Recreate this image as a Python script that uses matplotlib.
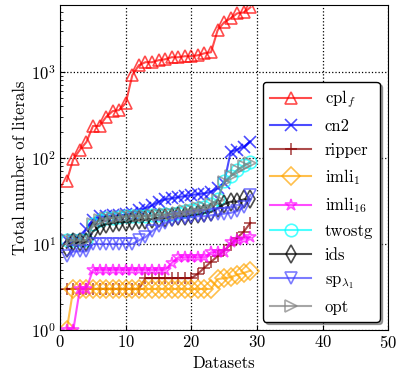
import matplotlib
matplotlib.use("Agg")
import matplotlib.pyplot as plt

plt.rcParams['font.family'] = 'serif'
plt.rcParams['font.serif'] = ['cmr10']
plt.rcParams['mathtext.fontset'] = 'cm'
plt.rcParams['axes.formatter.use_mathtext'] = True
plt.rcParams['font.size'] = 12

# datasets 1..29, each method's literal counts (sorted)
datasets = list(range(1, 30))

cpl_f = [54, 97, 124, 153, 235, 235, 299, 350, 360, 434, 916, 1196, 1295, 1295, 1365,
         1400, 1480, 1480, 1520, 1520, 1560, 1645, 1690, 3040, 3770, 4200, 4790, 4900, 5620]
cn2 = [11, 11, 11, 15, 19, 21, 21, 21.5, 21.5, 22, 23, 25, 26, 28, 31,
       33, 34, 35, 36, 37, 38, 38.5, 40.5, 44.5, 51, 118, 125, 135, 155]
ripper = [3, 3, 3, 3, 3, 3, 3, 3, 3, 3, 3, 3, 4, 4, 4,
          4, 4, 4, 4, 4, 4.5, 5.3, 6.2, 7.2, 8.4, 9.8, 11.8, 13.9, 17.6]
imli_1 = [1, 3, 3, 3, 3, 3, 3, 3, 3, 3, 3, 3, 3, 3, 3,
          3, 3, 3, 3, 3, 3, 3, 3, 3.9, 4, 4.1, 4.4, 4.6, 4.9]
imli_16 = [1, 1, 3, 3, 5, 5, 5, 5, 5, 5, 5, 5, 5, 5, 5,
           5, 6, 7, 7, 7, 7, 7, 8, 8, 8, 10.5, 11, 11.5, 12]
twostg = [11, 11, 11, 11, 17, 19, 20, 20, 20.5, 21, 21, 21, 21, 21.5, 21.5,
          22, 22, 23, 24, 25, 26, 27, 29, 33, 54, 62, 73, 82, 90]
ids = [9, 10.5, 10.5, 10.5, 14, 16, 17, 17.5, 18, 18, 18.5, 19, 19, 19.5, 20,
       20, 20.5, 21, 21, 21.5, 22, 23, 23.5, 26, 29, 31, 31, 33, 33]
sp_l1 = [7.3, 8.2, 8.2, 8.2, 10, 10, 10, 10, 10, 10, 10, 11, 12, 14, 16,
         17.5, 19, 20, 20, 20.5, 21, 21, 21.5, 22, 22.5, 23, 24, 27, 37]
opt = [11, 11, 11, 11, 17, 19, 20, 20, 20.5, 21, 21, 21, 21, 21.5, 21.5,
       22, 22, 23, 24, 25, 26, 27, 29, 32.5, 53, 61, 72, 81, 88]

series = [
    (r'cpl$_f$', cpl_f, 'red', '^'),
    ('cn2', cn2, 'blue', 'x'),
    ('ripper', ripper, 'darkred', '+'),
    (r'imli$_1$', imli_1, 'orange', 'D'),
    (r'imli$_{16}$', imli_16, 'magenta', '*'),
    ('twostg', twostg, 'cyan', 'o'),
    ('ids', ids, 'black', 'd'),
    (r'sp$_{\lambda_1}$', sp_l1, '#4444ff', 'v'),
    ('opt', opt, 'gray', '>'),
]

fig = plt.figure(figsize=(3.96, 3.78), dpi=100)
ax = fig.add_axes([0.152, 0.127, 0.828, 0.86])

for label, vals, color, marker in series:
    filled = marker in ('x', '+')
    ax.plot(datasets, vals, color=color, marker=marker, markersize=9,
            markerfacecolor=color if filled else 'none', markeredgecolor=color,
            markeredgewidth=1.2, linewidth=1.5, alpha=0.7, label=label)

ax.set_yscale('log')
ax.set_xlim(0, 50)
ax.set_ylim(1, 6000)
ax.set_xlabel('Datasets', labelpad=3)
ax.set_ylabel('Total number of literals', labelpad=2)
ax.grid(True, which='major', color='black', linestyle=':', linewidth=0.9)
ax.tick_params(which='both', direction='in', pad=3)

leg = ax.legend(loc='lower right', fancybox=True, shadow=True, framealpha=1,
                edgecolor='black', handlelength=2.5, labelspacing=0.52,
                borderaxespad=0.5)

fig.savefig('out.png', dpi=100)
